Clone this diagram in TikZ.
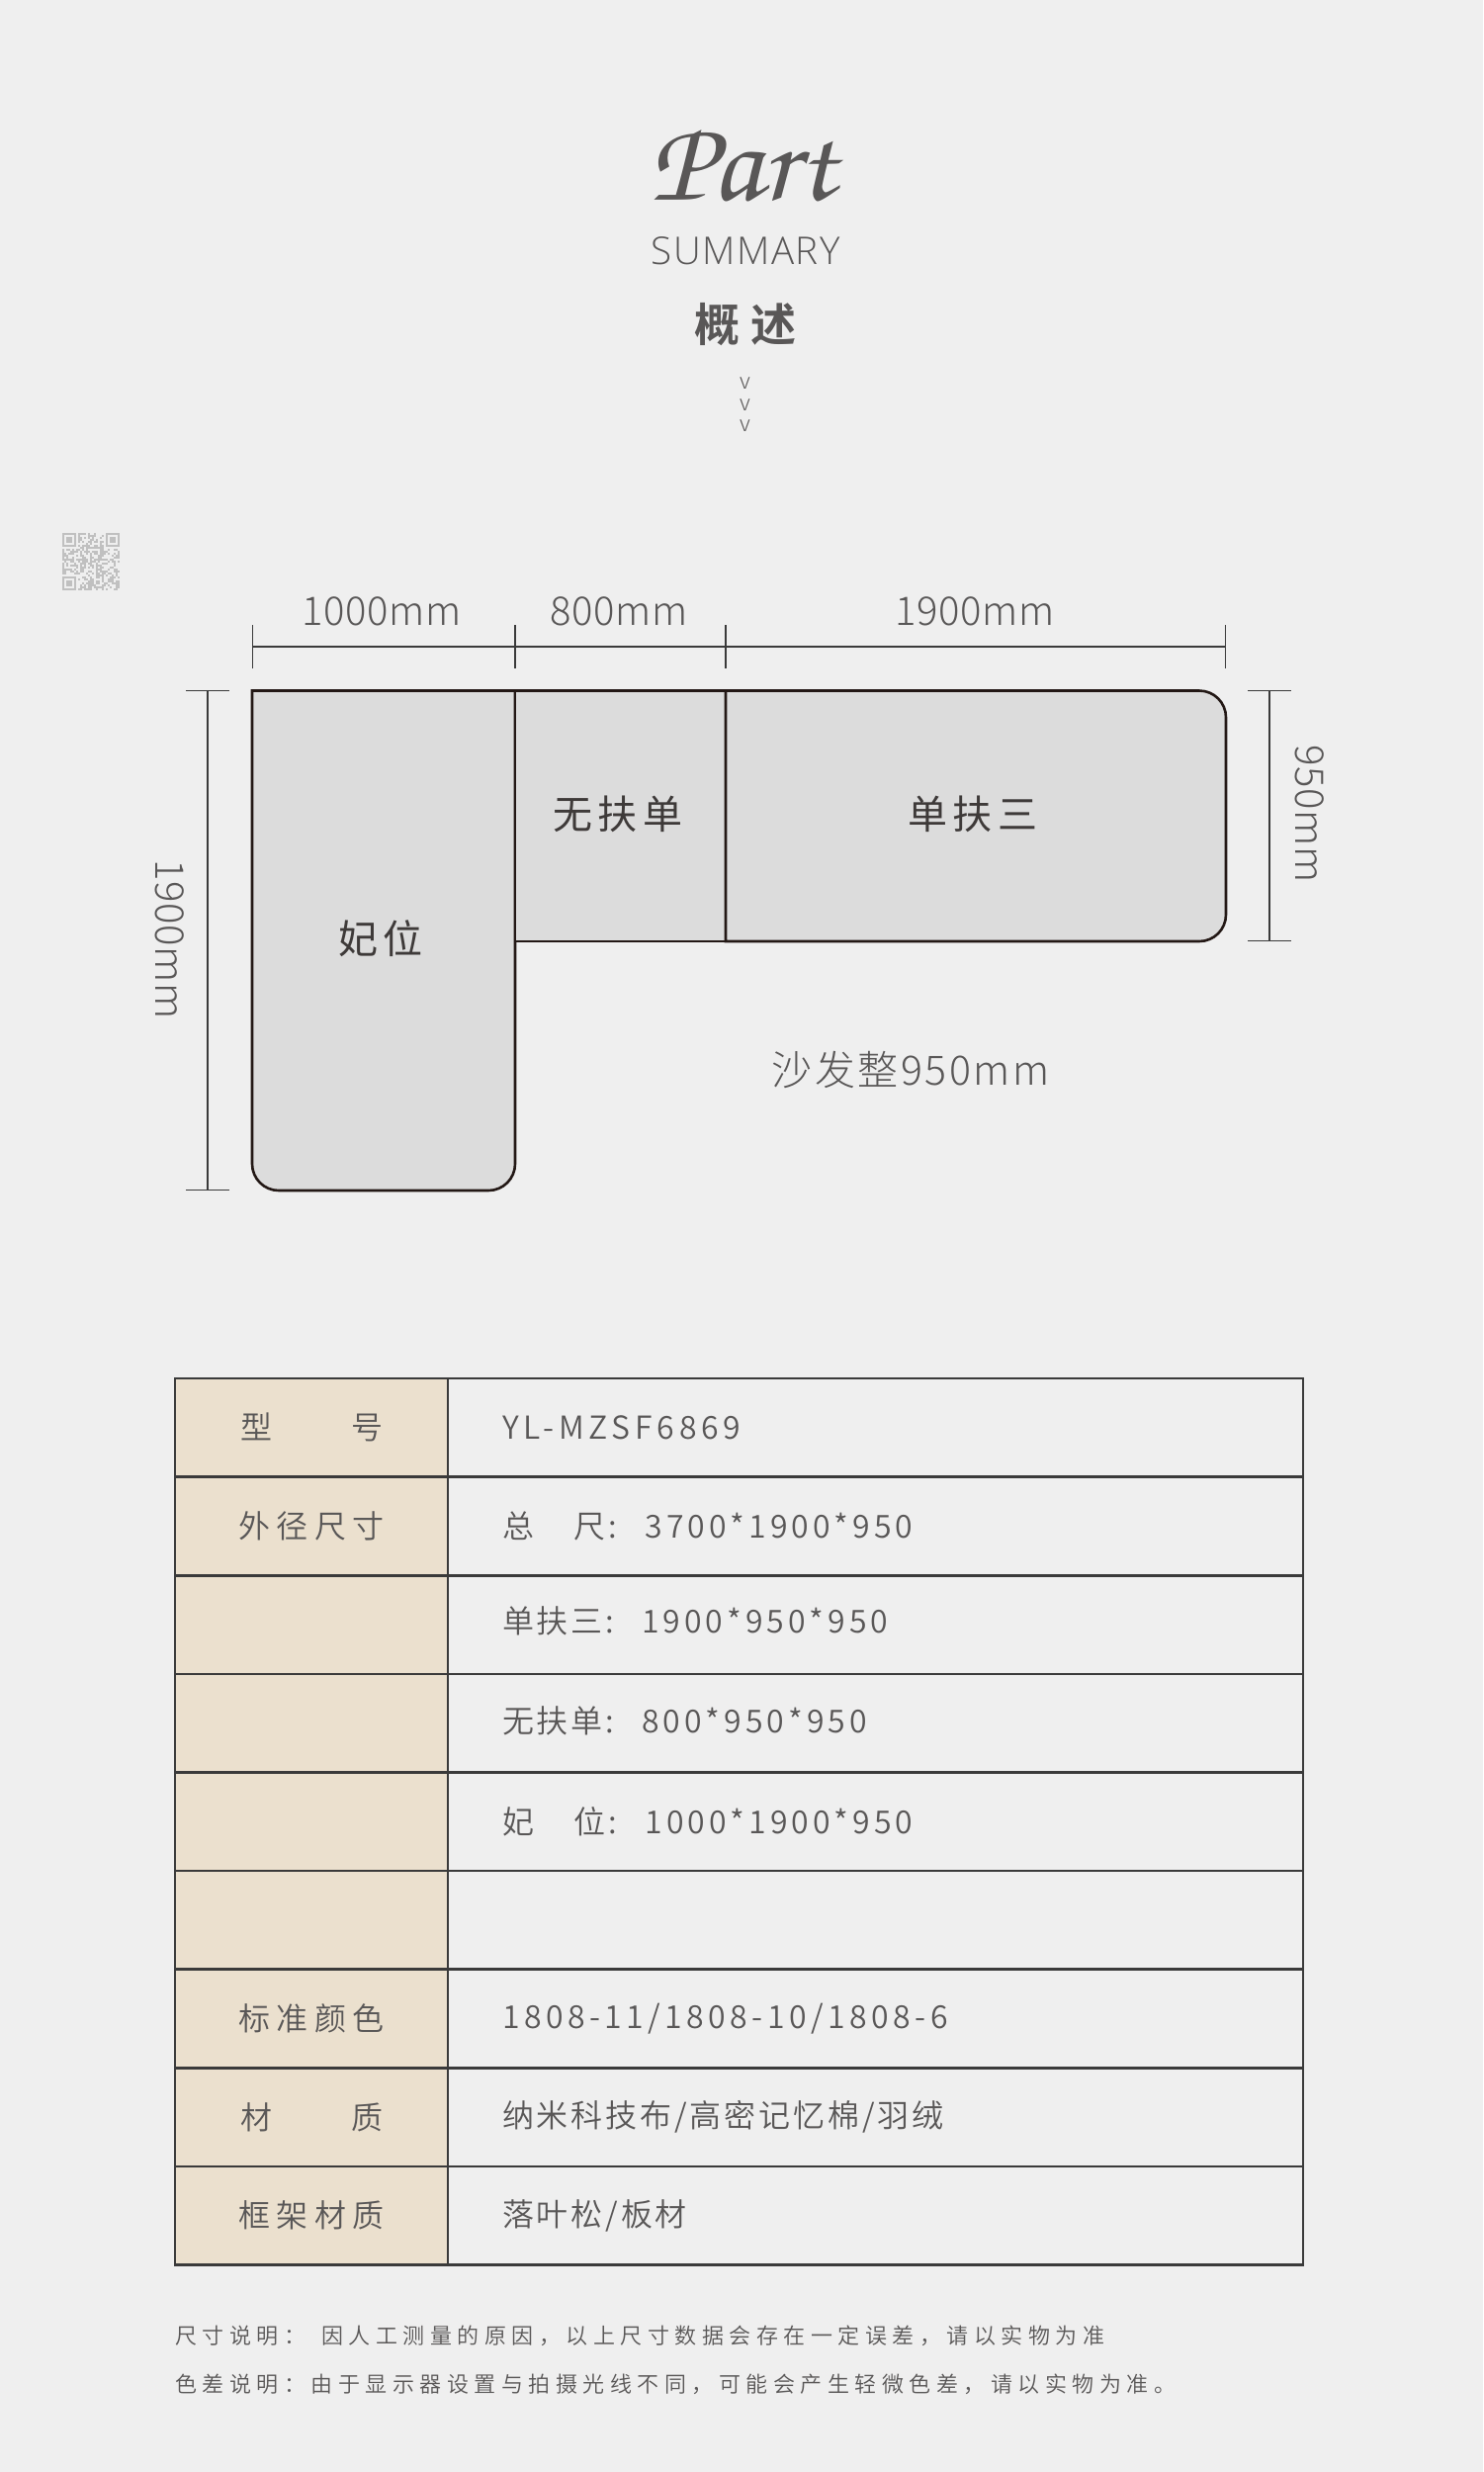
\documentclass[tikz,border=0pt]{standalone}
\usepackage{fontspec}
\usetikzlibrary{positioning,arrows.meta}
\setmainfont{Noto Sans CJK SC Light}[BoldFont=Noto Sans CJK SC Bold]
\newfontfamily\sumfont[LetterSpace=4]{Open Sans Light}
\newfontfamily\dimfont[LetterSpace=2]{Noto Sans CJK SC Light}
\newfontfamily\widefont[LetterSpace=6]{Noto Sans CJK SC Light}
\newfontfamily\headfont[LetterSpace=22]{Noto Sans CJK SC Bold}
\newfontfamily\sofafont[LetterSpace=13]{Noto Sans CJK SC}
\newfontfamily\labfont[LetterSpace=20]{Noto Sans CJK SC DemiLight}
\newfontfamily\valfont[LetterSpace=9]{Noto Sans CJK SC DemiLight}
\newfontfamily\sizefont[LetterSpace=12.5]{Noto Sans CJK SC DemiLight}
\newfontfamily\codefont[LetterSpace=15]{Noto Sans CJK SC DemiLight}
\newfontfamily\colfont[LetterSpace=14]{Noto Sans CJK SC DemiLight}
\newfontfamily\notefont[LetterSpace=25]{Noto Sans CJK SC DemiLight}
\definecolor{bggray}{HTML}{EFEFEF}
\definecolor{sofagray}{HTML}{DCDCDC}
\definecolor{sofaline}{HTML}{231815}
\definecolor{inkgray}{HTML}{595757}
\definecolor{seatink}{HTML}{3E3A39}
\definecolor{gridline}{HTML}{3A3A3A}
\definecolor{sandfill}{HTML}{EBE0CE}
\definecolor{qrgray}{HTML}{C0C0C0}

\begin{document}
\begin{tikzpicture}[
x=0.5pt, y=-0.5pt,
txt/.style={text=inkgray, inner sep=0pt},
sofa/.style={draw=sofaline, fill=sofagray, line width=1.3pt},
dimline/.style={draw=gridline, line width=0.6pt, {Bar[width=22pt,line width=0.6pt]}-{Bar[width=22pt,line width=0.6pt]}},
dimtext/.style={txt, font=\dimfont\fontsize{20}{24}\selectfont},
seat/.style={txt, text=seatink, font=\sofafont\fontsize{20}{24}\selectfont},
lab/.style={draw=gridline, line width=1.3pt, fill=sandfill, outer sep=0pt, inner sep=0pt, text=inkgray, minimum width=138pt, minimum height=49.8pt, font=\labfont\fontsize{16}{20}\selectfont},
val/.style={draw=gridline, line width=1.3pt, outer sep=0pt, inner ysep=0pt, inner xsep=27.5pt, text=inkgray, text width=377.5pt, minimum height=49.8pt, align=left, font=\valfont\fontsize{16}{20}\selectfont},
note/.style={txt, anchor=west, font=\notefont\fontsize{11}{14}\selectfont}
]
\fill[bggray] (0,0) rectangle (1500,2500);
\useasboundingbox (0,0) rectangle (1500,2500);
%Heading
\node[txt, xscale=1.02]  (part)  at (751,167)  {\fontsize{59}{60}\fontencoding{OT1}\fontfamily{pzc}\fontseries{mb}\fontshape{it}\selectfont Part};
\node[txt]  (summary) at (754,254) {\sumfont\fontsize{19.3}{22}\selectfont SUMMARY};
\node[txt]  (title) at (754,328)  {\headfont\fontsize{23}{26}\selectfont 概述};
\node[txt]  (v1)    at (754,388)  {\fontsize{11}{12}\selectfont v};
\node[txt]  (v2)    at (754,410)  {\fontsize{11}{12}\selectfont v};
\node[txt]  (v3)    at (754,431)  {\fontsize{11}{12}\selectfont v};
%QR patch
\pgfmathsetseed{6869}
\foreach \i in {0,...,28}
  \foreach \j in {0,...,28}{
    \pgfmathparse{rnd>0.5 ? 1 : 0}
    \ifnum\pgfmathresult=1
      \fill[qrgray] (63+2*\i,539+2*\j) rectangle ++(2,2);
    \fi
  }
\foreach \a/\b in {63/539, 107/539, 63/583}{
  \fill[bggray] (\a-2,\b-2) rectangle ++(18,18);
  \draw[qrgray, line width=1pt] (\a+1,\b+1) rectangle ++(12,12);
  \fill[qrgray] (\a+4,\b+4) rectangle ++(6,6);
}
%Sofa
\draw[sofa] (255,698.5) -- (521,698.5) [rounded corners=13.5pt] -- (521,1204) -- (255,1204) [sharp corners] -- cycle;
\draw[sofa] (521,698.5) rectangle (734,952);
\draw[sofa] (734,698.5) [rounded corners=13.5pt] -- (1240,698.5) -- (1240,952) [sharp corners] -- (734,952) -- cycle;
\node[seat] (fei)   at (385,949)  {妃位};
\node[seat] (wufu)  at (625,823)  {无扶单};
\node[seat] (danfu) at (984,823)  {单扶三};
\node[txt, font=\widefont\fontsize{20.5}{24}\selectfont] (whole) at (921,1082) {沙发整950mm};
%Dimensions
\coordinate (t1) at (255,654);
\coordinate (t2) at (521,654);
\coordinate (t3) at (734,654);
\coordinate (t4) at (1240,654);
\coordinate (l1) at (210,698);
\coordinate (l2) at (210,1204);
\coordinate (r1) at (1284,698);
\coordinate (r2) at (1284,952);
\draw[dimline] (t1) -- (t2);
\draw[dimline] (t2) -- (t3);
\draw[dimline] (t3) -- (t4);
\draw[dimline] (l1) -- (l2);
\draw[dimline] (r1) -- (r2);
\node[dimtext] (d1000) at (386,618) {1000mm};
\node[dimtext] (d800)  at (626,618) {800mm};
\node[dimtext] (d1900) at (986,618) {1900mm};
\node[dimtext, rotate=-90] (h1900) at (172,950) {1900mm};
\node[dimtext, rotate=-90] (h950)  at (1325,823) {950mm};
%Table
\node[lab]  (a1)  [anchor=north west] at (177,1394) {型\hspace{40pt}号};
\node[lab]  (a2)  [below=0pt of a1] {外径尺寸};
\node[lab]  (a3)  [below=0pt of a2] {};
\node[lab]  (a4)  [below=0pt of a3] {};
\node[lab]  (a5)  [below=0pt of a4] {};
\node[lab]  (a6)  [below=0pt of a5] {};
\node[lab]  (a7)  [below=0pt of a6] {标准颜色};
\node[lab]  (a8)  [below=0pt of a7] {材\hspace{40pt}质};
\node[lab]  (a9)  [below=0pt of a8] {框架材质};
\node[val]  (b1)  [right=0pt of a1] {\codefont YL-MZSF6869};
\node[val]  (b2)  [right=0pt of a2] {\raisebox{1.6pt}{总\hspace{20.5pt}尺:\hspace{6pt} \sizefont 3700*1900*950}};
\node[val]  (b3)  [right=0pt of a3] {\raisebox{4.8pt}{单扶三:\hspace{6pt} \sizefont 1900*950*950}};
\node[val]  (b4)  [right=0pt of a4] {\raisebox{3.2pt}{无扶单:\hspace{6pt} \sizefont 800*950*950}};
\node[val]  (b5)  [right=0pt of a5] {妃\hspace{20.5pt}位:\hspace{6pt} \sizefont 1000*1900*950};
\node[val]  (b6)  [right=0pt of a6] {};
\node[val]  (b7)  [right=0pt of a7] {\colfont 1808-11/1808-10/1808-6};
\node[val]  (b8)  [right=0pt of a8] {纳米科技布/高密记忆棉/羽绒};
\node[val]  (b9)  [right=0pt of a9] {落叶松/板材};
%Notes
\node[note] (n1) at (177,2362) {尺寸说明：\hspace{8pt}因人工测量的原因，以上尺寸数据会存在一定误差，请以实物为准};
\node[note] (n2) at (177,2411) {色差说明：由于显示器设置与拍摄光线不同，可能会产生轻微色差，请以实物为准。};
\end{tikzpicture}
\end{document}
